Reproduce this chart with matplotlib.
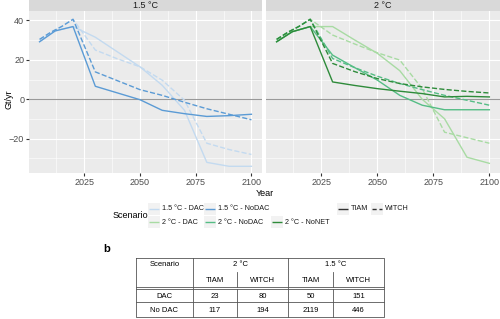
import numpy as np
import matplotlib.pyplot as plt
import matplotlib
from matplotlib.patches import Rectangle

matplotlib.rcParams.update({
    "font.family": ["Liberation Sans", "DejaVu Sans"],
    "font.size": 6,
})

W, H = 500, 319

# ---- panel a data (Gt/yr) ----
TIAM_YEARS = [2005, 2012, 2020, 2030, 2040, 2050, 2060, 2070, 2080, 2090, 2100]
WITCH_YEARS = [2005, 2010, 2015, 2020, 2030, 2040, 2050, 2060, 2070, 2080, 2090, 2100]

p15_dac_tiam = [29.2, 34.7, 36.9, 31.5, 24.0, 16.5, 7.1, -5.6, -32.0, -34.0, -34.0]
p15_nodac_tiam = [29.2, 34.7, 36.9, 6.6, 3.2, -0.2, -5.6, -7.3, -8.7, -8.3, -7.6]
p15_dac_witch = [30.4, 34.0, 37.0, 40.6, 25.0, 20.5, 16.5, 9.7, -0.5, -22.3, -25.5, -28.0]
p15_nodac_witch = [30.4, 34.0, 37.0, 40.6, 13.9, 9.4, 4.9, 2.0, -1.5, -4.8, -7.6, -10.4]

p2_dac_tiam = [29.2, 34.3, 36.9, 36.9, 30.0, 23.3, 14.5, 0.0, -9.9, -29.4, -32.5]
p2_nodac_tiam = [29.2, 34.3, 36.9, 22.4, 16.0, 9.7, 2.0, -3.0, -5.3, -5.3, -5.3]
p2_nonet_tiam = [29.2, 34.3, 36.9, 8.8, 7.0, 5.4, 4.1, 2.9, 1.2, 1.5, 1.2]
p2_dac_witch = [30.4, 34.0, 37.0, 40.6, 32.6, 28.0, 23.6, 19.9, 5.4, -16.7, -19.5, -22.3]
p2_nodac_witch = [30.4, 34.0, 37.0, 40.6, 20.7, 16.0, 11.7, 8.0, 4.9, 2.0, -0.5, -3.0]
p2_nonet_witch = [30.4, 34.0, 37.0, 40.6, 18.2, 14.0, 10.5, 8.0, 6.3, 5.0, 4.0, 3.2]

C_15_DAC = "#c3daf0"
C_15_NODAC = "#5b9bd5"
C_2_DAC = "#a8dba3"
C_2_NODAC = "#55bd85"
C_2_NONET = "#2e8b3a"

panels = [
    ("1.5 °C", [
        (TIAM_YEARS, p15_dac_tiam, C_15_DAC, "-"),
        (WITCH_YEARS, p15_dac_witch, C_15_DAC, "--"),
        (TIAM_YEARS, p15_nodac_tiam, C_15_NODAC, "-"),
        (WITCH_YEARS, p15_nodac_witch, C_15_NODAC, "--"),
    ]),
    ("2 °C", [
        (TIAM_YEARS, p2_dac_tiam, C_2_DAC, "-"),
        (WITCH_YEARS, p2_dac_witch, C_2_DAC, "--"),
        (TIAM_YEARS, p2_nodac_tiam, C_2_NODAC, "-"),
        (WITCH_YEARS, p2_nodac_witch, C_2_NODAC, "--"),
        (TIAM_YEARS, p2_nonet_tiam, C_2_NONET, "-"),
        (WITCH_YEARS, p2_nonet_witch, C_2_NONET, "--"),
    ]),
]

# ---- panel b data ----
table_rows = ["DAC", "No DAC"]
table_subcols = ["TIAM", "WITCH", "TIAM", "WITCH"]
table_vals = [["23", "80", "50", "151"],
              ["117", "194", "2119", "446"]]

fig = plt.figure(figsize=(W / 100, H / 100), dpi=100)


def fx(px):
    return px / W


def fy(py):
    return 1 - py / H


panel_x = [(29, 262), (266, 500)]
top, bottom = 11, 173
for (title, series), (x0, x1) in zip(panels, panel_x):
    ax = fig.add_axes([fx(x0), fy(bottom), fx(x1 - x0), (bottom - top) / H])
    ax.set_facecolor("#ebebeb")
    for s in ax.spines.values():
        s.set_visible(False)
    ax.set_xlim(2000.25, 2104.75)
    ax.set_ylim(-37.4, 44.8)
    ax.set_xticks([2025, 2050, 2075, 2100])
    ax.set_yticks([-20, 0, 20, 40])
    ax.set_xticks([2012.5, 2037.5, 2062.5, 2087.5], minor=True)
    ax.set_yticks([-30, -10, 10, 30], minor=True)
    ax.grid(True, which="major", color="white", linewidth=0.8)
    ax.grid(True, which="minor", color="white", linewidth=0.4)
    ax.set_axisbelow(True)
    ax.tick_params(which="major", length=2, color="#333333", labelsize=6.5,
                   labelcolor="#4d4d4d", pad=1.5)
    ax.tick_params(which="minor", length=0)
    ax.axhline(0, color="#999999", linewidth=0.8, zorder=1)
    for yrs, vals, col, ls in series:
        ax.plot(yrs, vals, color=col, linestyle=ls, linewidth=1.0, zorder=2)
    if x0 > 100:
        ax.tick_params(axis="y", labelleft=False, length=0)
    # facet strip
    sax = fig.add_axes([fx(x0), fy(top), fx(x1 - x0), top / H])
    sax.set_facecolor("#d9d9d9")
    sax.set_xticks([])
    sax.set_yticks([])
    for s in sax.spines.values():
        s.set_visible(False)
    sax.text(0.5, 0.5, title, ha="center", va="center", fontsize=6.5,
             color="#1a1a1a", transform=sax.transAxes)

fig.text(fx(9), fy(99), "Gt/yr", ha="center", va="center", rotation=90,
         fontsize=6.5)
fig.text(fx(265), fy(194), "Year", ha="center", va="center", fontsize=6.5)

# ---- legend ----
lax = fig.add_axes([0, 0, 1, 1])
lax.set_xlim(0, W)
lax.set_ylim(H, 0)
lax.axis("off")
lax.text(113, 216, "Scenario", ha="left", va="center", fontsize=6.5)
legend_items = [
    (148, 209, C_15_DAC, "-", "1.5 °C - DAC"),
    (204, 209, C_15_NODAC, "-", "1.5 °C - NoDAC"),
    (148, 222, C_2_DAC, "-", "2 °C - DAC"),
    (204, 222, C_2_NODAC, "-", "2 °C - NoDAC"),
    (271, 222, C_2_NONET, "-", "2 °C - NoNET"),
    (337, 209, "#333333", "-", "TIAM"),
    (371, 209, "#333333", "--", "WITCH"),
]
for kx, ky, col, ls, lab in legend_items:
    lax.add_patch(Rectangle((kx, ky - 6), 12, 12, facecolor="#f2f2f2",
                            edgecolor="none"))
    lax.plot([kx + 1, kx + 11], [ky, ky], color=col, linestyle=ls,
             linewidth=1.0, dashes=(3, 2) if ls == "--" else (1, 0))
    lax.text(kx + 14, ky, lab, ha="left", va="center", fontsize=5.2,
             color="#1a1a1a")

# ---- table b ----
lax.text(103, 249, "b", ha="left", va="center", fontsize=8, fontweight="bold")
tl, tr = 136, 384
col_x = [136, 193, 237, 288, 333, 384]
lw = 0.6
ec = "#555555"
lax.plot([tl, tr, tr, tl, tl], [258, 258, 317, 317, 258], color=ec, lw=lw)
for yy in (286.5, 289):
    lax.plot([tl, tr], [yy, yy], color=ec, lw=lw)
lax.plot([tl, tr], [302, 302], color=ec, lw=lw)
for cx in (193, 288):
    lax.plot([cx, cx], [258, 317], color=ec, lw=lw)
for cx in (237, 333):
    lax.plot([cx, cx], [272, 286.5], color=ec, lw=lw)
    lax.plot([cx, cx], [289, 317], color=ec, lw=lw)

centers = [(col_x[i] + col_x[i + 1]) / 2 for i in range(5)]
fs = 5.5
lax.text(centers[0], 265, "Scenario", ha="center", va="center", fontsize=fs)
lax.text((193 + 288) / 2, 265, "2 °C", ha="center", va="center", fontsize=fs)
lax.text((288 + 384) / 2, 265, "1.5 °C", ha="center", va="center", fontsize=fs)
for i, lab in enumerate(table_subcols):
    lax.text(centers[i + 1], 280, lab, ha="center", va="center", fontsize=fs)
for r, (rl, vals) in enumerate(zip(table_rows, table_vals)):
    yy = 296 + r * 14
    lax.text(centers[0], yy, rl, ha="center", va="center", fontsize=fs)
    for i, v in enumerate(vals):
        lax.text(centers[i + 1], yy, v, ha="center", va="center", fontsize=fs)

fig.savefig("out.png", dpi=100)
